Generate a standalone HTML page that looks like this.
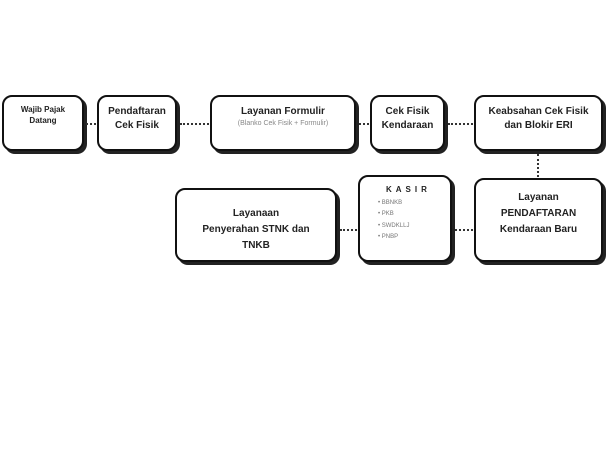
<!DOCTYPE html>
<html><head><style>
body{margin:0;width:606px;height:450px;background:#fff;position:relative;font-family:"Liberation Sans",sans-serif;overflow:hidden}
.b{position:absolute;box-sizing:border-box;border:2px solid #111;border-radius:10px;background:#fff;box-shadow:3px 3px 0 #222;display:flex;flex-direction:column;align-items:center;justify-content:center;text-align:center;font-weight:bold;color:#222;line-height:1.35}
.d{position:absolute;border-top:2px dotted #333}
.v{position:absolute;border-left:2px dotted #333}
</style></head><body>
<div class="b" style="left:2px;top:95px;width:82px;height:56px;font-size:8px;justify-content:flex-start;padding-top:8px">Wajib Pajak<br>Datang</div>
<div class="b" style="left:97px;top:95px;width:80px;height:56px;font-size:10px;justify-content:flex-start;padding-top:8px">Pendaftaran<br>Cek Fisik</div>
<div class="b" style="left:210px;top:95px;width:146px;height:56px;font-size:10px;justify-content:flex-start;padding-top:8px">Layanan Formulir<span style="font-weight:normal;font-size:7px;color:#888">(Blanko Cek Fisik + Formulir)</span></div>
<div class="b" style="left:370px;top:95px;width:75px;height:56px;font-size:10px;justify-content:flex-start;padding-top:8px">Cek Fisik<br>Kendaraan</div>
<div class="b" style="left:474px;top:95px;width:129px;height:56px;font-size:10px;justify-content:flex-start;padding-top:8px">Keabsahan Cek Fisik<br>dan Blokir ERI</div>
<div class="b" style="left:175px;top:188px;width:162px;height:74px;font-size:10px;justify-content:flex-start;padding-top:16px;line-height:1.6">Layanaan<br>Penyerahan STNK dan<br>TNKB</div>
<div class="b" style="left:358px;top:175px;width:94px;height:87px;font-size:8px;justify-content:flex-start;align-items:flex-start;padding:8px 0 0 18px;text-align:left"><div style="letter-spacing:4px;margin-left:8px;margin-bottom:2px">KASIR</div><div style="font-weight:normal;font-size:6px;color:#777;line-height:1.9">• BBNKB<br>• PKB<br>• SWDKLLJ<br>• PNBP</div></div>
<div class="b" style="left:474px;top:178px;width:129px;height:84px;font-size:10px;justify-content:flex-start;padding-top:10px;line-height:1.6">Layanan<br>PENDAFTARAN<br>Kendaraan Baru</div>
<div class="d" style="left:86px;top:123px;width:10px"></div>
<div class="d" style="left:180px;top:123px;width:29px"></div>
<div class="d" style="left:359px;top:123px;width:10px"></div>
<div class="d" style="left:448px;top:123px;width:25px"></div>
<div class="v" style="left:537px;top:154px;height:23px"></div>
<div class="d" style="left:340px;top:229px;width:17px"></div>
<div class="d" style="left:455px;top:229px;width:18px"></div>
</body></html>
